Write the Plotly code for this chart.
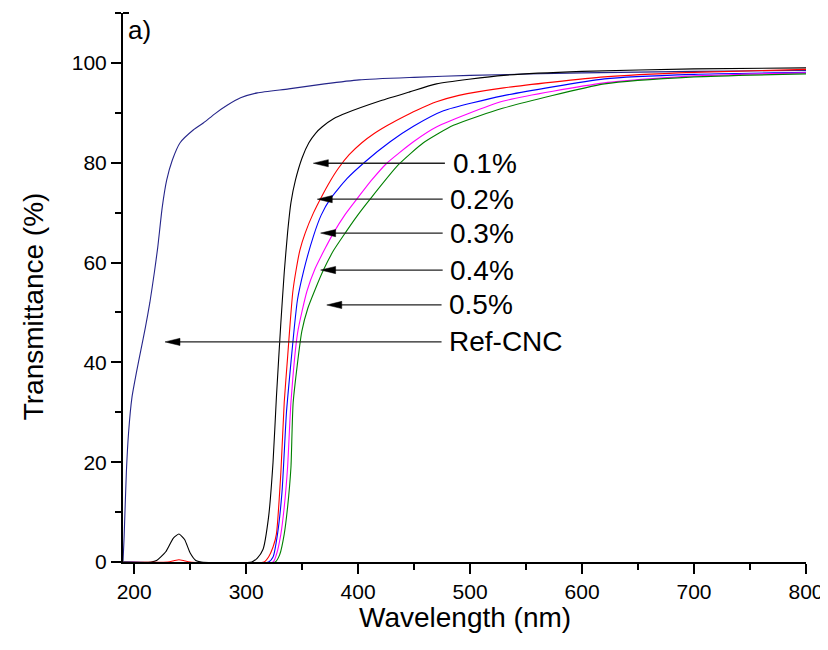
import plotly.graph_objects as go

# ---------------- data ----------------
# Ref-CNC
ref_x = [190, 191, 193, 195, 198, 202, 206, 210, 214, 218, 221, 225, 229, 234, 241, 253, 262, 272, 283, 295, 310, 338, 370, 401, 450, 500, 600, 700, 800]
ref_y = [0, 5, 18, 26, 33, 38, 42.5, 47, 52, 58, 63, 71, 76.5, 80.5, 84, 86.6, 88, 89.8, 91.5, 93, 94, 94.8, 95.8, 96.6, 97.1, 97.5, 98, 98.3, 98.5]

# 0.1 %
s1_x = [190, 215, 220, 228, 235, 240, 245, 250, 255, 260, 305, 310, 315, 320, 324, 327, 331, 334, 337, 340, 344, 350, 356, 362, 368, 378, 390, 420, 446, 470, 530, 600, 700, 800]
s1_y = [0, 0, 0.3, 2, 4.8, 5.6, 4.5, 1.8, 0.3, 0, 0, 0.8, 2.5, 9, 20, 33, 48, 58, 66, 72, 76.5, 81, 84.0, 85.9, 87.2, 88.8, 90.0, 92.4, 94.2, 95.8, 97.5, 98.3, 98.8, 99.0]

# 0.2 %
s2_x = [190, 230, 236, 240, 244, 250, 316, 320, 324, 327, 331, 334, 337, 339.5, 341.7, 344.6, 348, 352.7, 360, 367.6, 375, 382.4, 392, 403.3, 414, 425.6, 438, 452.4, 470, 490, 530, 620, 700, 800]
s2_y = [0, 0, 0.3, 0.45, 0.3, 0, 0, 1, 3, 5.6, 18, 32, 41, 48.5, 54.2, 58.5, 62.5, 65.9, 69.9, 73.3, 76.3, 78.9, 81.6, 84.0, 85.8, 87.4, 88.9, 90.5, 92.2, 93.5, 95, 97.2, 98.1, 98.7]

# 0.3 %
s3_x = [190, 320, 324, 328, 332, 336, 340, 343, 345.8, 351.2, 360.1, 367, 375, 390, 406.3, 428.6, 449.4, 476.2, 529, 620, 700, 800]
s3_y = [0, 0, 1, 5.6, 14, 30, 40, 47, 52.5, 58.2, 65.3, 69.5, 72.7, 76.8, 80.2, 84.2, 87.3, 90.4, 93.4, 96.8, 97.7, 98.1]

# 0.4 %
s4_x = [190, 324, 327, 331, 334, 337, 340, 346, 354.2, 361.6, 370, 377.9, 388, 398.8, 412, 425.6, 449.4, 470.3, 529, 620, 700, 800]
s4_y = [0, 0, 1.5, 5.6, 11, 19, 32, 46, 54.2, 58.8, 62.6, 65.9, 69.5, 72.7, 76.5, 79.9, 84.2, 87.2, 92.3, 96.0, 97.4, 98.0]

# 0.5 %
s5_x = [190, 326, 330, 334, 337, 340, 342, 349.7, 355, 361.6, 369, 378, 388.4, 399, 410.7, 436, 458.3, 485.1, 529, 620, 700, 800]
s5_y = [0, 0, 1.5, 5.6, 11, 19, 32, 46.2, 50.8, 54.6, 58.5, 62.4, 65.9, 69.3, 72.7, 79.6, 84.0, 87.5, 90.9, 95.8, 97.2, 97.8]

series_names = ["Ref-CNC", "0.1%", "0.2%", "0.3%", "0.4%", "0.5%"]
series_x = [ref_x, s1_x, s2_x, s3_x, s4_x, s5_x]
series_y = [ref_y, s1_y, s2_y, s3_y, s4_y, s5_y]
series_colors = ["#25258a", "#000000", "#ff0000", "#0000ff", "#ff00ff", "#008000"]

# annotation labels
ann_labels = ["0.1%", "0.2%", "0.3%", "0.4%", "0.5%", "Ref-CNC"]
ann_tip_x = [360.0, 363.5, 366.5, 366.5, 372.0, 227.5]
ann_y = [79.9, 72.7, 65.9, 58.5, 51.5, 44.1]
ann_tail_x = [477.5, 475.5, 475.5, 475.5, 474.5, 474.5]

X_RANGE = [190, 800]
Y_RANGE = [0, 110]

FONT = "Liberation Sans, Arial, sans-serif"

fig = go.Figure()
for name, xs, ys, col in zip(series_names, series_x, series_y, series_colors):
    fig.add_trace(go.Scatter(x=xs, y=ys, mode="lines", name=name,
                             line=dict(color=col, width=1.1, shape="spline", smoothing=0.55),
                             showlegend=False, hoverinfo="x+y+name"))

# plot-area size in px (for arrow-head proportions)
PLOT_W = 828 - 115 - 30
PLOT_H = 650 - 5 - 96
px_per_x = PLOT_W / (X_RANGE[1] - X_RANGE[0])
px_per_y = PLOT_H / (Y_RANGE[1] - Y_RANGE[0])
head_len = 15 / px_per_x
head_half = 3.6 / px_per_y

shapes = []
for lab, tx, yy, tail in zip(ann_labels, ann_tip_x, ann_y, ann_tail_x):
    shapes.append(dict(type="line", xref="x", yref="y", x0=tx + head_len * 0.8, x1=tail, y0=yy, y1=yy,
                       line=dict(color="#222222", width=1.3)))
    shapes.append(dict(type="path", xref="x", yref="y",
                       path=f"M {tx},{yy} L {tx + head_len},{yy + head_half} L {tx + head_len},{yy - head_half} Z",
                       fillcolor="black", line=dict(color="black", width=0.5)))
    fig.add_annotation(x=tail + 5, y=yy, xref="x", yref="y", text=lab, showarrow=False,
                       xanchor="left", yanchor="middle",
                       font=dict(family=FONT, size=28, color="black"))

# small cap at the top of the y axis
shapes.append(dict(type="line", xref="paper", yref="paper", x0=0, x1=6 / PLOT_W, y0=1, y1=1,
                   line=dict(color="black", width=2)))

fig.add_annotation(x=0.004, y=1.0, xref="paper", yref="paper", text="a)", showarrow=False,
                   xanchor="left", yanchor="top",
                   font=dict(family=FONT, size=26, color="black"))

# axis titles (placed as paper annotations for exact positioning)
fig.add_annotation(x=0.5, y=-0.101, xref="paper", yref="paper", text="Wavelength (nm)",
                   showarrow=False, xanchor="center", yanchor="middle",
                   font=dict(family=FONT, size=28, color="black"))
fig.add_annotation(x=-0.1316, y=0.466, xref="paper", yref="paper", text="Transmittance (%)",
                   showarrow=False, xanchor="center", yanchor="middle", textangle=-90,
                   font=dict(family=FONT, size=28, color="black"))

axis_common = dict(showline=True, linecolor="black", linewidth=2, ticks="outside",
                   tickcolor="black", tickwidth=2, ticklen=10, showgrid=False, zeroline=False,
                   tickfont=dict(family=FONT, size=21, color="black"),
                   mirror=False, automargin=False)

fig.update_layout(
    template="none",
    width=828, height=650,
    margin=dict(l=115, r=30, t=5, b=96),
    paper_bgcolor="white", plot_bgcolor="white",
    shapes=shapes,
    xaxis=dict(range=X_RANGE, dtick=100, tick0=0,
               minor=dict(ticks="outside", ticklen=6, tickcolor="black", tickwidth=2, dtick=50, tick0=0),
               **axis_common),
    yaxis=dict(range=Y_RANGE, dtick=20, tick0=0,
               minor=dict(ticks="outside", ticklen=6, tickcolor="black", tickwidth=2, dtick=10, tick0=0),
               **axis_common),
)

fig.write_html("out.html")
